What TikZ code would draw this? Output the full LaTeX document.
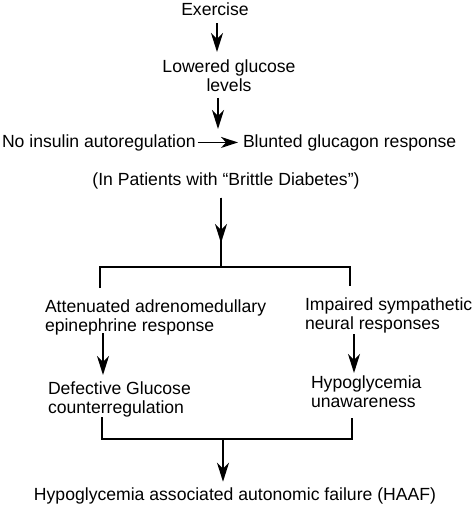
\documentclass[tikz,border=0pt]{standalone}
\usepackage{fontspec}
\setmainfont{Liberation Sans}
\usetikzlibrary{arrows.meta}
\begin{document}
\begin{tikzpicture}[x=1pt,y=-1pt,
  txt/.style={inner sep=0pt,outer sep=0pt,font=\fontsize{17.6}{19.5}\selectfont},
  ln/.style={line width=1.5pt},
  arr/.style={ln,-{Stealth[length=19pt,width=12pt,inset=6pt]}}]
\useasboundingbox (0,0) rectangle (474,505);
% nodes
\node[txt,anchor=base] (ex) at (215,16) {Exercise};
\node[txt,anchor=north,align=center] (low) at (229,59.5) {Lowered glucose\\levels};
\node[txt,anchor=base west] (ni) at (2,147) {No insulin autoregulation};
\node[txt,anchor=base west] (bg) at (243,147) {Blunted glucagon response};
\node[txt,anchor=base] (ip) at (226,185) {(In Patients with “Brittle Diabetes”)};
\node[txt,anchor=north west,align=left] (att) at (45,299.5) {Attenuated adrenomedullary\\epinephrine response};
\node[txt,anchor=north west,align=left] (imp) at (305,297.5) {Impaired sympathetic\\neural responses};
\node[txt,anchor=north west,align=left] (def) at (48,381.5) {Defective Glucose\\counterregulation};
\node[txt,anchor=north west,align=left] (hyp) at (311,375.5) {Hypoglycemia\\unawareness};
\node[txt,anchor=base] (haaf) at (235,500) {Hypoglycemia associated autonomic failure (HAAF)};
% coordinates
\coordinate (c1) at (217,0);
\coordinate (c2) at (218,142);
\coordinate (c3) at (221,0);
\coordinate (a3) at (221,243);
\coordinate (bl) at (100,267);
\coordinate (bm) at (221,267);
\coordinate (br) at (350,267);
\coordinate (c4) at (103,0);
\coordinate (c5) at (354,0);
\coordinate (dl) at (102,439);
\coordinate (dm) at (223,439);
\coordinate (dr) at (352,439);
% connectors
\draw[arr,shorten <=7pt,shorten >=7.5pt] (ex.south -| c1) -- (low.north -| c1);
\draw[arr,shorten <=6pt,shorten >=13pt] (low.south -| c2) -- (c2);
\draw[arr,shorten <=2pt,shorten >=5pt,-{Stealth[length=17pt,width=11pt,inset=5pt]}] (ni.east) -- (ni.east -| bg.west);
\draw[ln,shorten <=9pt] (ip.south -| c3) -- (bm);
\draw[arr,shorten <=9pt] (ip.south -| c3) -- (a3);
\draw[ln,shorten <=11.5pt,shorten >=11.5pt] (att.north -| bl) -- (bl) -- (br) -- (imp.north -| br);
\draw[arr,shorten <=-2pt,shorten >=6.5pt] (att.south -| c4) -- (def.north -| c4);
\draw[arr,shorten <=1pt,shorten >=2.5pt] (imp.south -| c5) -- (hyp.north -| c5);
\draw[ln,shorten <=0pt,shorten >=10pt] (def.south -| dl) -- (dl) -- (dr) -- (hyp.south -| dr);
\draw[arr,shorten >=5.5pt] (dm) -- (haaf.north -| dm);
\end{tikzpicture}
\end{document}
